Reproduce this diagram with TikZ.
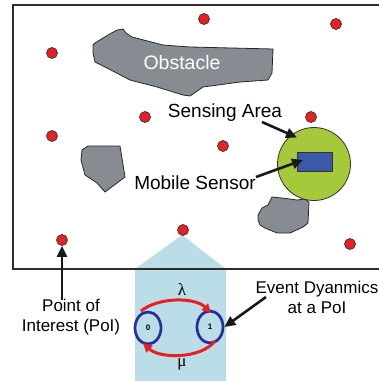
\documentclass[tikz,border=0pt]{standalone}
\usepackage{fontspec}
\setmainfont{Liberation Sans}
\newfontfamily\greekfont{Liberation Serif}
\usetikzlibrary{arrows.meta,shapes.geometric}
\definecolor{poired}{RGB}{232,32,38}
\definecolor{obsgray}{RGB}{135,140,146}
\definecolor{senseg}{RGB}{166,201,60}
\definecolor{sensblue}{RGB}{60,88,168}
\definecolor{statblue}{RGB}{40,44,150}
\definecolor{lightblue}{RGB}{186,221,232}
\definecolor{framec}{RGB}{45,45,45}
\tikzset{
  poi/.style={circle,fill=poired,draw=black!80,line width=0.7pt,minimum size=11pt,inner sep=0pt},
  obst/.style={fill=obsgray,draw=black!85,line width=0.8pt},
  lbl/.style={font=\fontsize{19}{21}\selectfont,inner sep=0pt},
  slbl/.style={font=\fontsize{17}{20}\selectfont,inner sep=0pt,align=center},
  pointer/.style={line width=2.6pt,draw=black!90,-{Triangle[length=11pt,width=10pt]}},
  state/.style={ellipse,draw=statblue,line width=2.7pt,minimum width=26pt,minimum height=32pt,inner sep=0pt,font=\fontsize{8}{9}\selectfont\bfseries},
  trans/.style={line width=3pt,draw=poired,-{Triangle[length=9pt,width=9pt]}},
}
\begin{document}
\begin{tikzpicture}[x=1pt,y=-1pt]
\useasboundingbox (0,0) rectangle (379,381);
% light blue zoom region
\fill[lightblue] (135,381) -- (135,269) -- (182,235) -- (226,269) -- (226,381) -- cycle;
% frame
\draw[framec,line width=1.6pt] (379,5) -- (13,5) -- (13,269) -- (379,269);
% obstacles
\draw[obst] (93,45) -- (95,43) -- (108,35) -- (117,30) -- (123,29) -- (126,33) -- (132,37) -- (163,45) -- (190,47) -- (273,49) -- (272,73) -- (268,80) -- (240,82) -- (203,87) -- (190,96) -- (183,95) -- (157,87) -- (130,80) -- (107,68) -- (95,62) -- (93,53) -- cycle;
\node[font=\fontsize{19.5}{21}\selectfont,text=white] (obstlbl) at (182,63) {Obstacle};
\draw[obst] (82,150) -- (88,146) -- (120,146) -- (125,177) -- (105,192) -- (97,183) -- (85,175) -- (81,160) -- cycle;
\draw[obst] (258,215) -- (262,208) -- (268,205) -- (272,197) -- (282,198) -- (297,200) -- (305,199) -- (309,202) -- (308,223) -- (303,227) -- (290,233) -- (277,233) -- (265,228) -- (260,225) -- (258,220) -- cycle;
% sensing area and sensor
\node[circle,fill=senseg,draw=black!80,line width=0.8pt,minimum size=73pt,inner sep=0pt] (area) at (314,164) {};
\node[rectangle,fill=sensblue,draw=black!80,line width=0.6pt,minimum width=35pt,minimum height=19pt,inner sep=0pt] (sensor) at (314.5,161.5) {};
% points of interest
\node[poi] (p1) at (204,19) {};
\node[poi] (p2) at (336,24) {};
\node[poi] (p3) at (52,53) {};
\node[poi] (p4) at (145,117) {};
\node[poi] (p5) at (311,117) {};
\node[poi] (p6) at (52,136) {};
\node[poi] (p7) at (223,146) {};
\node[poi] (p8) at (62,240) {};
\node[poi] (p9) at (183,230) {};
\node[poi] (p10) at (350,244) {};
% labels
\node[lbl] (salbl) at (225,113) {Sensing Area};
\node[lbl] (mslbl) at (195,183) {Mobile Sensor};
\node[slbl] (poilbl) at (71,317) {Point of\\Interest (PoI)};
\node[slbl] (evlbl) at (317,297) {Event Dyanmics\\at a PoI};
% pointer arrows
\coordinate (sastart) at (262,122);
\coordinate (msstart) at (256,177);
\coordinate (poistart) at (62,300);
\coordinate (evstart) at (266,297);
\draw[pointer] (sastart) -- (297,137.5);
\draw[pointer] (msstart) -- (303,160);
\draw[pointer] (poistart) -- (p8.south);
% states
\node[state] (s0) at (148,328) {0};
\node[state] (s1) at (210,327) {1};
\draw[pointer] (evstart) -- (s1.east);
\coordinate (t1a) at (141,311);
\coordinate (t1b) at (211,313);
\coordinate (t2a) at (215,341);
\coordinate (t2b) at (143,343);
\draw[trans] (t1a) .. controls (158,297) and (195,297) .. (t1b);
\draw[trans] (t2a) .. controls (201,359) and (160,359) .. (t2b);
\node[font=\fontsize{17}{18}\selectfont\greekfont] (lam) at (182,290) {λ};
\node[font=\fontsize{17}{18}\selectfont\greekfont] (mu) at (182,364) {μ};
\end{tikzpicture}
\end{document}
